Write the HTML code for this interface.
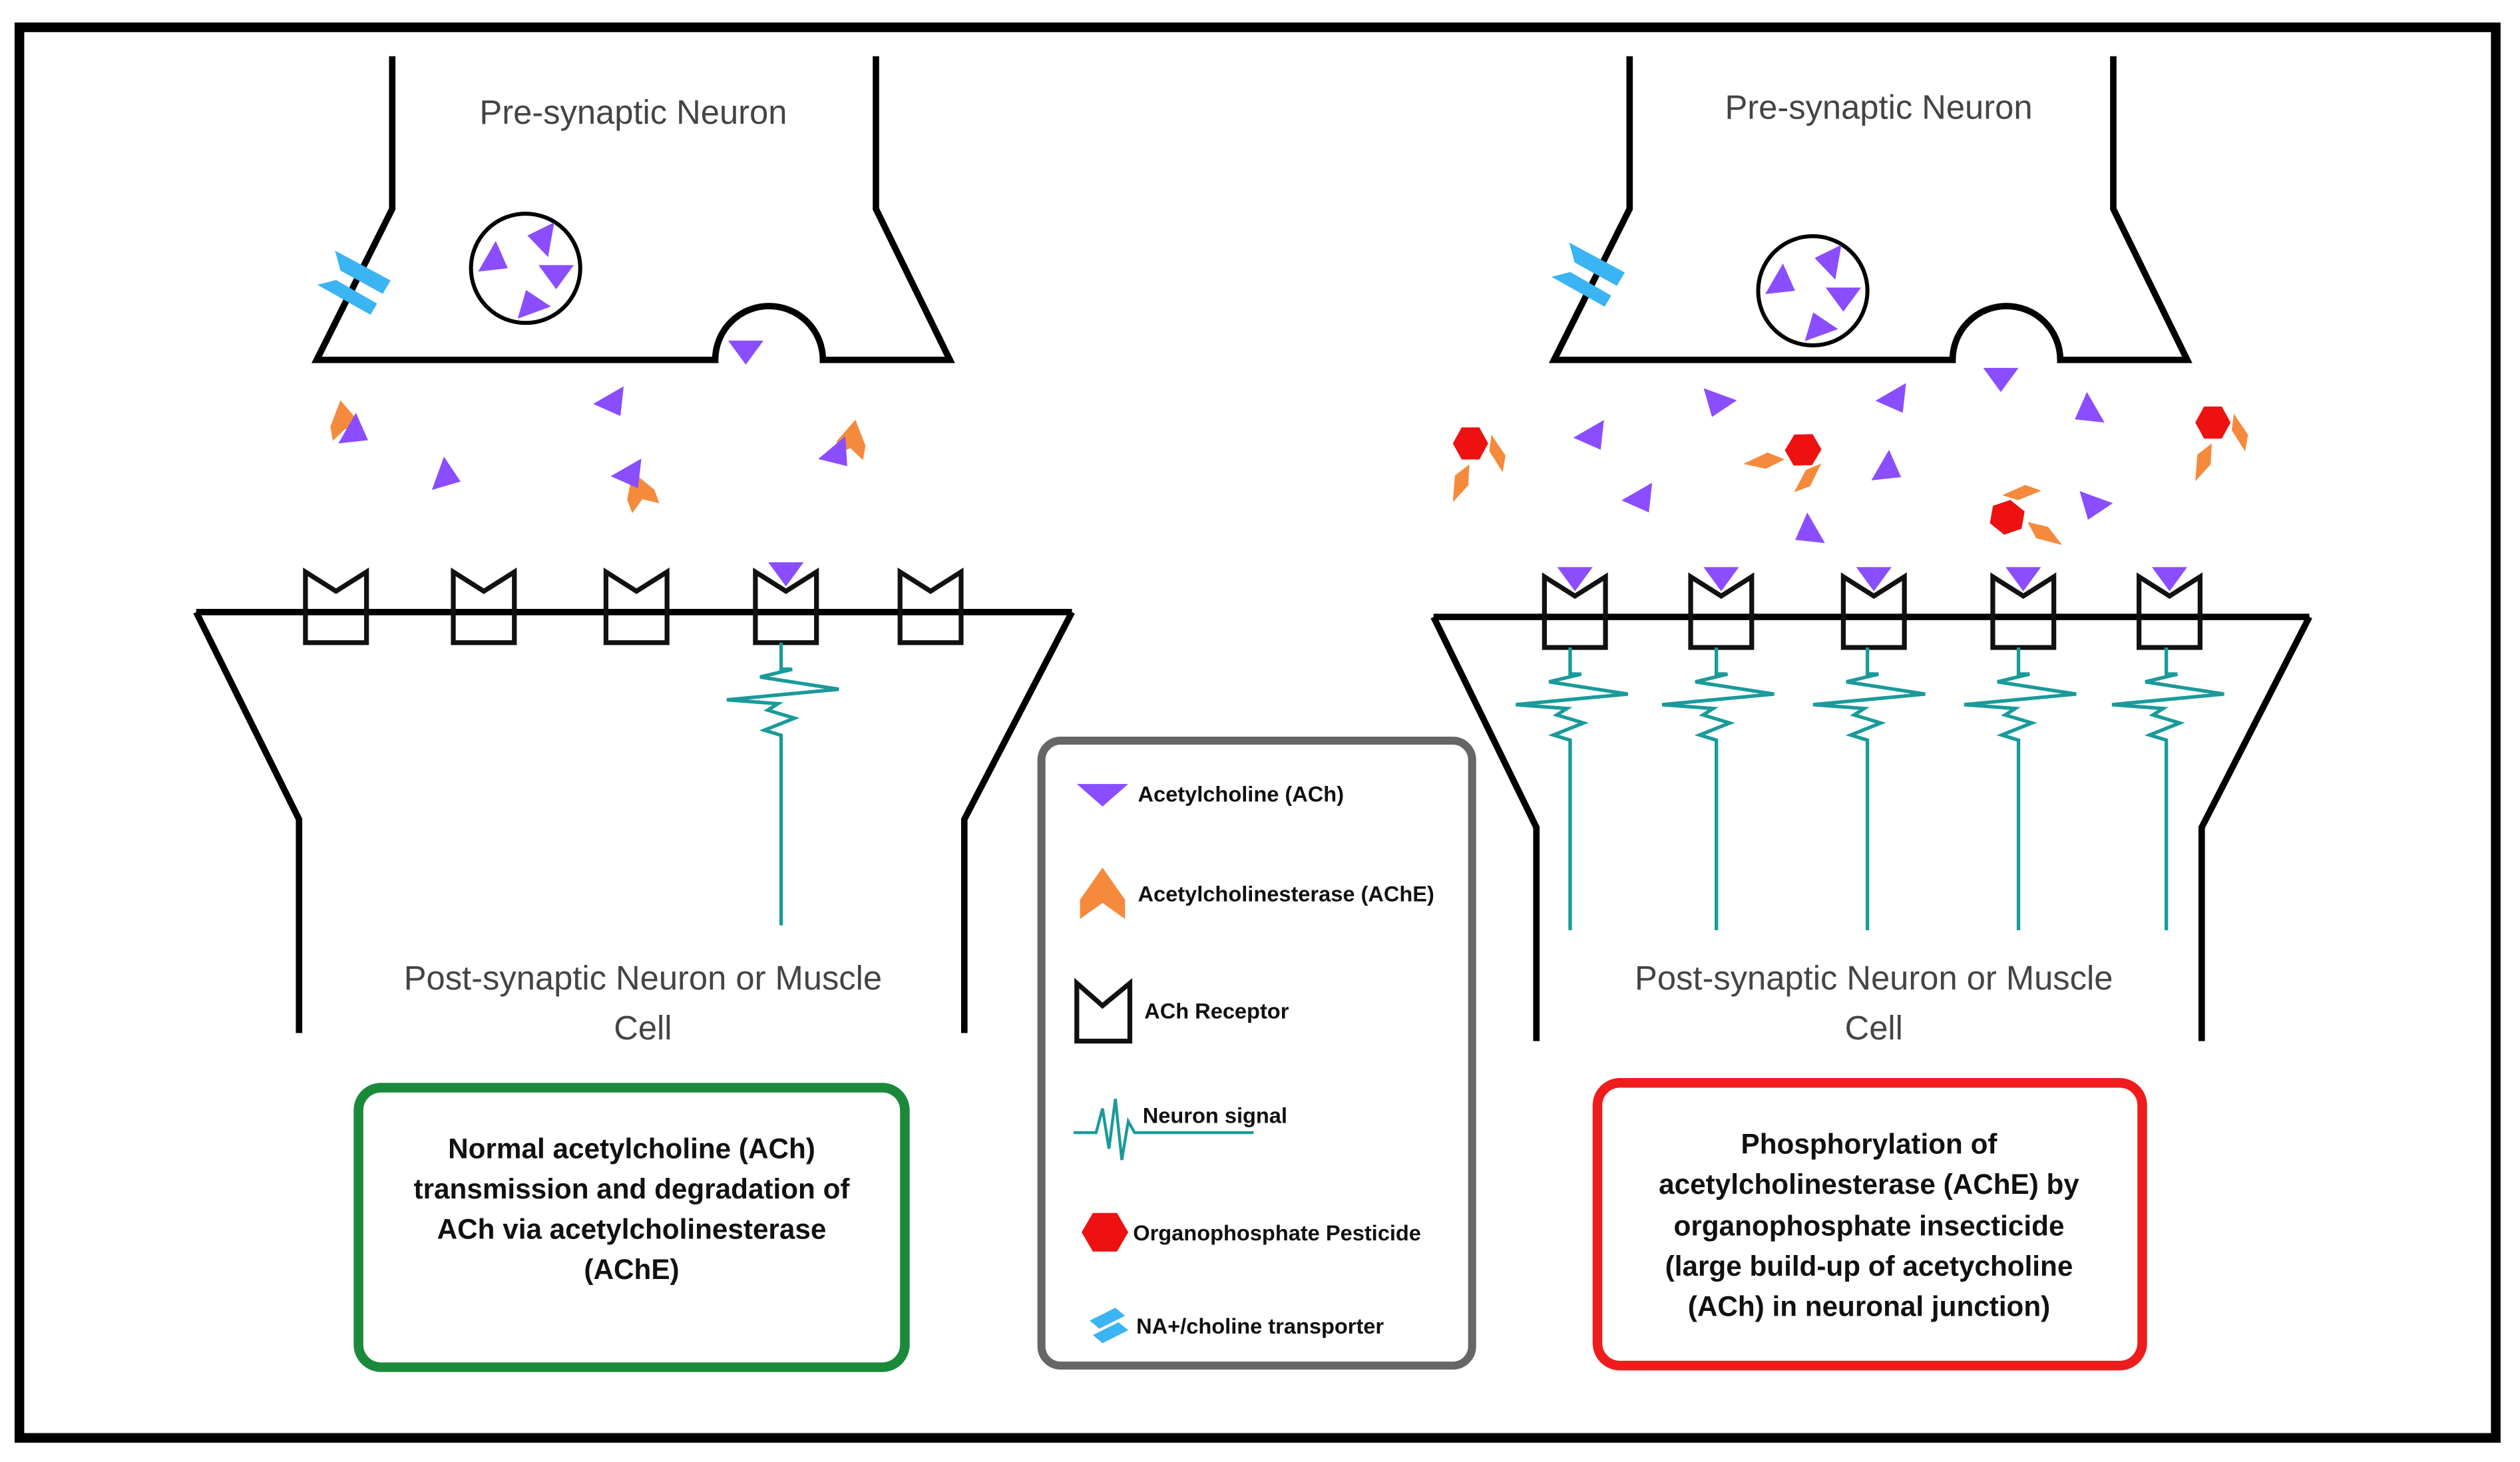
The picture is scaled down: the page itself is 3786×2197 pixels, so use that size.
<!DOCTYPE html>
<html><head><meta charset="utf-8"><style>
html,body{margin:0;padding:0;background:#fff;}
svg{display:block;}
.t{font-family:"Liberation Sans",sans-serif;font-weight:300;fill:#444;font-size:21px;}
.b{font-family:"Liberation Sans",sans-serif;font-weight:bold;fill:#111;font-size:17.5px;}
.l{font-family:"Liberation Sans",sans-serif;font-weight:bold;fill:#111;font-size:13.5px;}
</style></head><body>
<svg width="3786" height="2197" viewBox="0 0 1568 910" xmlns="http://www.w3.org/2000/svg">
<defs>
<path id="tri" d="M-11,-7 L11,-7 L0,8 Z" fill="#8a4dff"/>
<path id="ache" d="M0,-13 L9,2 L9,11 L0,5 L-9,11 L-9,2 Z" fill="#f58a3c"/>
<g id="hexg">
<path d="M-11,0 L-5.5,-10 L5.5,-10 L11,0 L5.5,10 L-5.5,10 Z" fill="#ee1111"/>
<path d="M13,-5.5 L21.8,7.6 L20,18 L11.7,4.8 Z" fill="#f58a3c"/>
<path d="M-0.7,13 L-1.4,26 L-11,36.6 L-9.7,20 Z" fill="#f58a3c"/>
</g>
<g id="trans" fill="#3ab4f2"><path d="M-11.6,-21 L23,-2.4 L18.1,5.9 L-8.2,-8.6 Z"/><path d="M-22.6,0.3 L-10.9,-2.7 L14.6,12 L10.5,18.9 Z"/></g>
<path id="rec" d="M-19,356 L-19,400 L19,400 L19,356 L0,368 Z" fill="none" stroke="#111" stroke-width="3" stroke-linejoin="miter"/>
<path id="sig" d="M0,400 V416.5 L6.9,416.6 L-13.1,421.4 L35.9,429 L-33.8,435.6 L-2,438 L-8.3,442 L8.3,447 L-10.4,454.5 L0,457.7 V576" fill="none" stroke="#1a9a9a" stroke-width="2.2"/>
</defs>
<rect x="12" y="17" width="1541" height="878" fill="none" stroke="#000" stroke-width="6"/>

<!-- LEFT -->
<g fill="none" stroke="#000" stroke-width="4">
<path d="M244,35 V130 L197,224 H445 A33,33 0 0 1 512,224 H591 L545,130 V35"/>
<circle cx="327" cy="167" r="34" stroke-width="2.5"/>
<path d="M122,381 H667"/>
<path d="M122,381 L186,510 V643"/>
<path d="M667,381 L600,510 V643"/>
</g>
<text class="t" x="394" y="77" text-anchor="middle">Pre-synaptic Neuron</text>
<use href="#trans" x="220" y="177"/>
<use href="#tri" transform="translate(309,163) rotate(-60)"/>
<use href="#tri" transform="translate(336,148) rotate(100)"/>
<use href="#tri" transform="translate(346,172) rotate(0)"/>
<use href="#tri" transform="translate(330,188) rotate(160)"/>
<use href="#tri" x="464" y="219"/>
<use href="#tri" transform="translate(382,252) rotate(-30)"/>
<use href="#tri" transform="translate(279,297) rotate(-70)"/>
<use href="#ache" transform="translate(214,262) rotate(-10)"/>
<use href="#tri" transform="translate(222,270) rotate(-60)"/>
<use href="#ache" transform="translate(398,306) rotate(-20)"/>
<use href="#tri" transform="translate(393,297) rotate(-30)"/>
<use href="#ache" transform="translate(530,274) rotate(10)"/>
<use href="#tri" transform="translate(522,284) rotate(-40)"/>
<use href="#rec" x="209"/><use href="#rec" x="301"/><use href="#rec" x="396"/><use href="#rec" x="489"/><use href="#rec" x="579"/>
<use href="#tri" x="489" y="357"/>
<use href="#sig" x="486"/>
<text class="t" x="400" y="616" text-anchor="middle">Post-synaptic Neuron or Muscle</text>
<text class="t" x="400" y="647" text-anchor="middle">Cell</text>
<rect x="223" y="677" width="340" height="174" rx="14" fill="none" stroke="#1a8a3a" stroke-width="6"/>
<text class="b" text-anchor="middle"><tspan x="393" y="721">Normal acetylcholine (ACh)</tspan><tspan x="393" y="746">transmission and degradation of</tspan><tspan x="393" y="771">ACh via acetylcholinesterase</tspan><tspan x="393" y="796">(AChE)</tspan></text>

<!-- LEGEND -->
<rect x="648" y="461" width="268" height="389" rx="12" fill="none" stroke="#666" stroke-width="5"/>
<path d="M670,488 L702,488 L686,502 Z" fill="#8a4dff"/>
<text class="l" x="708" y="499">Acetylcholine (ACh)</text>
<path d="M686,540 L700,560 L700,572 L686,562 L672,572 L672,560 Z" fill="#f58a3c"/>
<text class="l" x="708" y="561">Acetylcholinesterase (AChE)</text>
<path d="M670,612 L670,648 L703,648 L703,612 L686,626 Z" fill="none" stroke="#111" stroke-width="3"/>
<text class="l" x="712" y="634">ACh Receptor</text>
<path d="M668,705 H682 L686,690 L690,715 L694,684 L698,722 L702,698 L706,705 H780" fill="none" stroke="#1a9a9a" stroke-width="1.8"/>
<text class="l" x="711" y="699">Neuron signal</text>
<path d="M673,767 L680,755 L695,755 L702,767 L695,779 L680,779 Z" fill="#ee1111"/>
<text class="l" x="705" y="772">Organophosphate Pesticide</text>
<g fill="#3ab4f2"><path d="M678,822 L694,814 L700,819 L684,827 Z"/><path d="M680,831 L696,823 L702,828 L686,836 Z"/></g>
<text class="l" x="707" y="830">NA+/choline transporter</text>

<!-- RIGHT -->
<g fill="none" stroke="#000" stroke-width="4">
<path d="M1014,35 V130 L967,224 H1215 A33,33 0 0 1 1282,224 H1361 L1315,130 V35"/>
<circle cx="1128" cy="181" r="34" stroke-width="2.5"/>
<path d="M892,384 H1437"/>
<path d="M892,384 L956,515 V648"/>
<path d="M1437,384 L1370,515 V648"/>
</g>
<text class="t" x="1169" y="74" text-anchor="middle">Pre-synaptic Neuron</text>
<use href="#trans" x="988" y="172"/>
<use href="#tri" transform="translate(1110,177) rotate(-60)"/>
<use href="#tri" transform="translate(1137,162) rotate(100)"/>
<use href="#tri" transform="translate(1147,186) rotate(0)"/>
<use href="#tri" transform="translate(1131,202) rotate(160)"/>
<use href="#tri" x="1245" y="236"/>
<use href="#tri" transform="translate(1068,252) rotate(20)"/>
<use href="#tri" transform="translate(992,273) rotate(-30)"/>
<use href="#tri" transform="translate(1180,250) rotate(-30)"/>
<use href="#tri" transform="translate(1298,257) rotate(60)"/>
<use href="#tri" transform="translate(1022,312) rotate(-30)"/>
<use href="#tri" transform="translate(1176,293) rotate(-60)"/>
<use href="#tri" transform="translate(1124,332) rotate(60)"/>
<use href="#tri" transform="translate(1302,316) rotate(20)"/>
<use href="#hexg" transform="translate(915,276)"/>
<use href="#hexg" transform="translate(1122,280) rotate(60)"/>
<use href="#hexg" transform="translate(1249,322) rotate(-80)"/>
<use href="#hexg" transform="translate(1377,263)"/>
<g transform="translate(0,3)">
<use href="#rec" x="980"/><use href="#rec" x="1071"/><use href="#rec" x="1166"/><use href="#rec" x="1259"/><use href="#rec" x="1350"/>
<use href="#tri" x="980" y="357"/><use href="#tri" x="1071" y="357"/><use href="#tri" x="1166" y="357"/><use href="#tri" x="1259" y="357"/><use href="#tri" x="1350" y="357"/>
<use href="#sig" x="977"/><use href="#sig" x="1068"/><use href="#sig" x="1162"/><use href="#sig" x="1256"/><use href="#sig" x="1348"/>
</g>
<text class="t" x="1166" y="616" text-anchor="middle">Post-synaptic Neuron or Muscle</text>
<text class="t" x="1166" y="647" text-anchor="middle">Cell</text>
<rect x="994" y="674" width="339" height="176" rx="14" fill="none" stroke="#ee1c1c" stroke-width="6"/>
<text class="b" text-anchor="middle"><tspan x="1163" y="718">Phosphorylation of</tspan><tspan x="1163" y="743">acetylcholinesterase (AChE) by</tspan><tspan x="1163" y="769">organophosphate insecticide</tspan><tspan x="1163" y="794">(large build-up of acetycholine</tspan><tspan x="1163" y="819">(ACh) in neuronal junction)</tspan></text>
</svg>
</body></html>
